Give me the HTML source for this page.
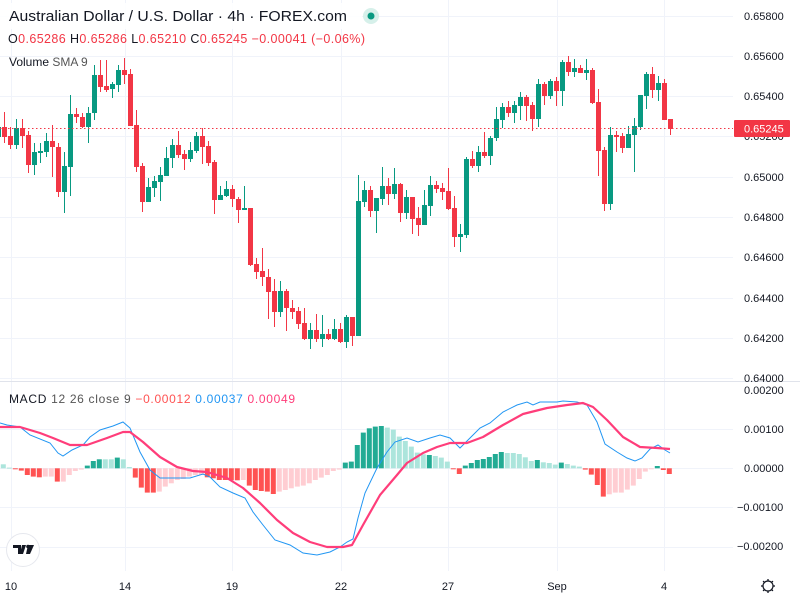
<!DOCTYPE html>
<html><head><meta charset="utf-8"><style>
html,body{margin:0;padding:0;background:#fff;width:800px;height:600px;overflow:hidden}
svg{display:block}
text{font-family:"Liberation Sans","DejaVu Sans",sans-serif}
</style></head><body>
<svg id="s" width="800" height="600" viewBox="0 0 800 600" xmlns="http://www.w3.org/2000/svg"></svg>
<script>
var s='';
var hy=[16,56,96,136,177,217,257,298,338,378];
hy.forEach(function(y){s+='<line x1="0" x2="733" y1="'+(y+0.5)+'" y2="'+(y+0.5)+'" stroke="#f0f3fa"/>';});
[429,468,507,547].forEach(function(y){s+='<line x1="0" x2="733" y1="'+(y+0.5)+'" y2="'+(y+0.5)+'" stroke="#f0f3fa"/>';});
[11,125,232,341,448,557,664].forEach(function(x){s+='<line y1="0" y2="571" x1="'+(x+0.5)+'" x2="'+(x+0.5)+'" stroke="#f0f3fa"/>';});
s+='<line x1="0" x2="800" y1="381.5" y2="381.5" stroke="#e0e3eb"/>';
var C=[['G',127,137,127,143],
['R',127,137,112,143],['R',136,145,127,149],['G',128,145,119,149],['R',128,136,119,148],['R',135,165,131,173],['G',152,165,143,175],['G',151,153,143,163],['G',141,152,133,157],['R',141,147,125,177],['R',147,192,143,197],
['G',166,192,152,213],['G',114,167,95,196],['R',114,117,108,123],['R',117,127,113,128],['G',113,127,107,143],['G',75,113,65,120],['R',75,87,60,92],['R',86,90,60,92],['G',84,89,82,98],['G',70,85,65,92],
['R',70,75,58,84],['R',74,126,69,126],['R',125,167,110,172],['R',166,202,163,212],['G',187,202,178,202],['G',181,188,176,197],['G',175,182,167,201],['G',158,176,147,176],['G',145,158,139,168],['R',145,155,131,158],
['R',154,159,150,170],['G',150,159,142,162],['G',136,151,132,153],['R',136,147,128,164],['R',146,163,141,166],['R',162,200,160,214],['G',195,200,186,200],['G',189,196,181,197],['R',189,199,185,207],['R',199,210,197,223],
['G',208,210,186,210],['R',208,265,208,266],['R',264,272,258,279],['R',271,277,248,286],['R',277,292,269,319],['R',291,312,279,327],['G',291,312,281,317],['R',291,308,289,331],['R',308,312,300,319],['R',311,324,307,329],
['R',323,339,308,340],['G',330,339,323,349],['R',330,339,314,342],['G',334,339,315,347],['R',334,339,329,340],['G',329,339,319,340],['R',329,342,323,343],['G',317,342,315,348],['R',317,336,317,346],['G',201,336,175,336],
['G',190,202,181,207],['R',190,211,186,217],['G',198,211,198,233],['G',186,199,167,205],['R',186,194,178,205],['G',184,194,168,199],['R',184,213,183,222],['G',197,213,190,219],['R',197,219,197,234],['R',218,225,207,236],
['G',205,225,190,225],['G',185,206,176,216],['R',185,189,181,193],['R',188,192,183,200],['R',191,209,168,210],['R',208,237,196,247],['G',234,237,224,252],['G',159,235,157,238],['R',159,166,151,168],['G',152,166,146,172],
['R',152,156,132,158],['G',138,156,136,165],['G',119,138,107,141],['G',107,120,103,128],['R',107,113,101,117],['G',105,113,101,123],['G',97,106,92,120],['R',97,106,95,121],['R',105,119,102,131],['G',84,119,79,127],
['R',84,96,82,105],['G',81,96,79,99],['R',81,91,77,106],['G',62,91,60,106],['R',62,72,56,76],['G',68,72,59,77],['R',68,73,65,73],['G',70,73,59,80],['R',70,103,68,104],['R',102,151,89,176],
['R',150,204,147,211],['G',135,204,127,210],['R',135,137,131,152],['R',136,148,133,153],['G',134,148,126,148],['G',126,135,118,172],['G',95,127,95,130],['G',74,96,72,109],['R',74,90,67,98],['G',83,90,76,101],
['R',83,120,79,120],['R',119,129,119,135]];
C.forEach(function(c,i){var x=4.5+6*(i-1);var col=c[0]=='G'?'#089981':'#f23645';
s+='<line x1="'+x+'" x2="'+x+'" y1="'+c[3]+'" y2="'+c[4]+'" stroke="'+col+'" stroke-width="1"/>';
s+='<rect x="'+(x-2.5)+'" y="'+c[1]+'" width="5" height="'+Math.max(1,c[2]-c[1])+'" fill="'+col+'"/>';});
s+='<line x1="0" x2="733" y1="128.5" y2="128.5" stroke="#f23645" stroke-dasharray="1.5,2.5"/>';
var H='g208 g218 R222 R227 R240 R245 R247 r245 r245 R260 r260 r240 r228 r224 G212 G198 G193 g193 g193 G188 g193 g216 R248 R278 R293 R293 r290 r275 r265 r255 r252 r245 r240 r240 R247 R250 R255 R255 R256 R256 r255 R272 R285 R288 R290 R297 r290 r285 r280 r275 r272 r265 r255 r248 r240 r228 r224 G203 G200 G150 G113 G100 G95 G93 g98 g104 g125 g138 g155 g173 g178 G180 g183 g188 g200 R222 R237 G212 G204 G195 G192 G186 G177 G171 g174 g174 g177 g187 g198 G195 g202 g204 g209 G203 g207 g212 g215 R224 R239 R270 R305 r298 r293 r293 r284 r272 r252 r230 r221 G213 R225 R237'.split(' ');
var cols={G:'#22ab94',g:'#ace5dc',R:'#ff5252',r:'#ffcdd2'};
H.forEach(function(h,k){var t=h[0],z=+h.slice(1);var v=(220-z)/3;var x=3.3+6*k-2.5;var y0=468.3;
var y=v>0?y0-v:y0;var hh=Math.max(1,Math.abs(v));s+='<rect x="'+x.toFixed(1)+'" y="'+y.toFixed(1)+'" width="5" height="'+hh.toFixed(1)+'" fill="'+cols[t]+'"/>';});
var B=[[0,423],[7,425],[20,427],[30,435],[50,443],[58,453],[63,456],[72,450],[83,445],[90,437],[100,430],[113,426],[123,422],[130,428],[140,452],[150,470],[160,478],[173,478],[190,478],[203,474],[210,477],[220,487],[233,493],[245,498],[253,512],[263,525],[275,540],[290,545],[303,553],[317,555],[330,552],[340,547],[347,542],[353,539],[358,518],[365,493],[377,468],[387,452],[395,442],[407,438],[418,442],[430,438],[440,435],[450,438],[460,448],[470,438],[480,428],[490,423],[503,412],[517,405],[527,402],[533,405],[540,402],[557,402],[563,401],[577,402],[587,405],[597,422],[605,444],[617,452],[627,458],[635,461],[642,458],[650,449],[658,445],[665,450],[670,453]];
var P=[[0,427],[20,427],[40,433],[53,438],[70,445],[87,445],[107,438],[123,432],[130,432],[143,442],[160,457],[177,467],[193,471],[207,472],[227,478],[243,488],[260,503],[277,520],[293,533],[310,542],[327,547],[343,547],[352,545],[363,525],[380,495],[397,475],[407,463],[423,453],[437,447],[450,443],[467,443],[483,437],[503,425],[523,414],[547,408],[567,405],[583,403],[593,407],[607,420],[623,437],[640,447],[657,448],[670,449]];
function pl(a){return a.map(function(p){return p[0]+','+p[1]}).join(' ');}
s+='<polyline points="'+pl(B)+'" fill="none" stroke="#2196f3" stroke-width="1"/>';
s+='<polyline points="'+pl(P)+'" fill="none" stroke="#ff3d7a" stroke-width="2.2" stroke-linejoin="round"/>';
var pl2=['0.65800','0.65600','0.65400','0.65200','0.65000','0.64800','0.64600','0.64400','0.64200','0.64000'];
pl2.forEach(function(t,i){s+='<text x="744" y="'+(hy[i]+4)+'" font-size="11" fill="#131722">'+t+'</text>';});
[['0.00200',390],['0.00100',429],['0.00000',468],['\u22120.00100',507],['\u22120.00200',546]].forEach(function(a){s+='<text x="'+(a[0][0]=='0'?744:737)+'" y="'+(a[1]+4)+'" font-size="11" fill="#131722">'+a[0]+'</text>';});
s+='<rect x="734" y="120" width="56" height="17" rx="1" fill="#f23645"/><text x="744" y="132.5" font-size="11" fill="#fff">0.65245</text>';
[['10',11],['14',125],['19',232],['22',341],['27',448],['Sep',557],['4',664]].forEach(function(a){s+='<text x="'+a[1]+'" y="590" font-size="11" fill="#131722" text-anchor="middle">'+a[0]+'</text>';});
s+='<circle cx="768" cy="586" r="5" fill="none" stroke="#131722" stroke-width="1.2"/>';
for(var a=0;a<8;a++){var an=a*Math.PI/4;s+='<line x1="'+(768+5*Math.cos(an))+'" y1="'+(586+5*Math.sin(an))+'" x2="'+(768+7*Math.cos(an))+'" y2="'+(586+7*Math.sin(an))+'" stroke="#131722" stroke-width="1.3"/>';}
s+='<circle cx="23" cy="550" r="16.5" fill="#fff" stroke="#e6e8ee"/><path d="M13 545h8v9h-3v-6h-5z M22 545h4l-3 9h-3z" fill="#131722"/><circle cx="28" cy="546.5" r="1.8" fill="#131722"/><path d="M28 545h6l-4 9h-4z" fill="#131722"/>';
s+='<rect x="0" y="3" width="362" height="26" fill="#fff" opacity="0.85"/>';
s+='<text x="9" y="21" font-size="15" fill="#131722" textLength="338" lengthAdjust="spacingAndGlyphs">Australian Dollar / U.S. Dollar · 4h · FOREX.com</text>';
s+='<circle cx="371" cy="16" r="8" fill="#d6f0ea"/><circle cx="371" cy="16" r="3.5" fill="#089981"/>';
s+='<text x="8" y="43" font-size="12.5" fill="#f23645" textLength="357" lengthAdjust="spacing"><tspan fill="#131722">O</tspan>0.65286  <tspan fill="#131722">H</tspan>0.65286  <tspan fill="#131722">L</tspan>0.65210  <tspan fill="#131722">C</tspan>0.65245  \u22120.00041 (\u22120.06%)</text>';
s+='<text x="9" y="66" font-size="12" fill="#131722">Volume <tspan fill="#555">SMA 9</tspan></text>';
s+='<text x="9" y="403" font-size="12" fill="#131722" textLength="286" lengthAdjust="spacing">MACD <tspan fill="#555">12 26 close 9</tspan>   <tspan fill="#ff5252">\u22120.00012</tspan> <tspan fill="#2196f3">0.00037</tspan> <tspan fill="#ff3d7a">0.00049</tspan></text>';
document.getElementById('s').innerHTML=s;
</script>
</body></html>
